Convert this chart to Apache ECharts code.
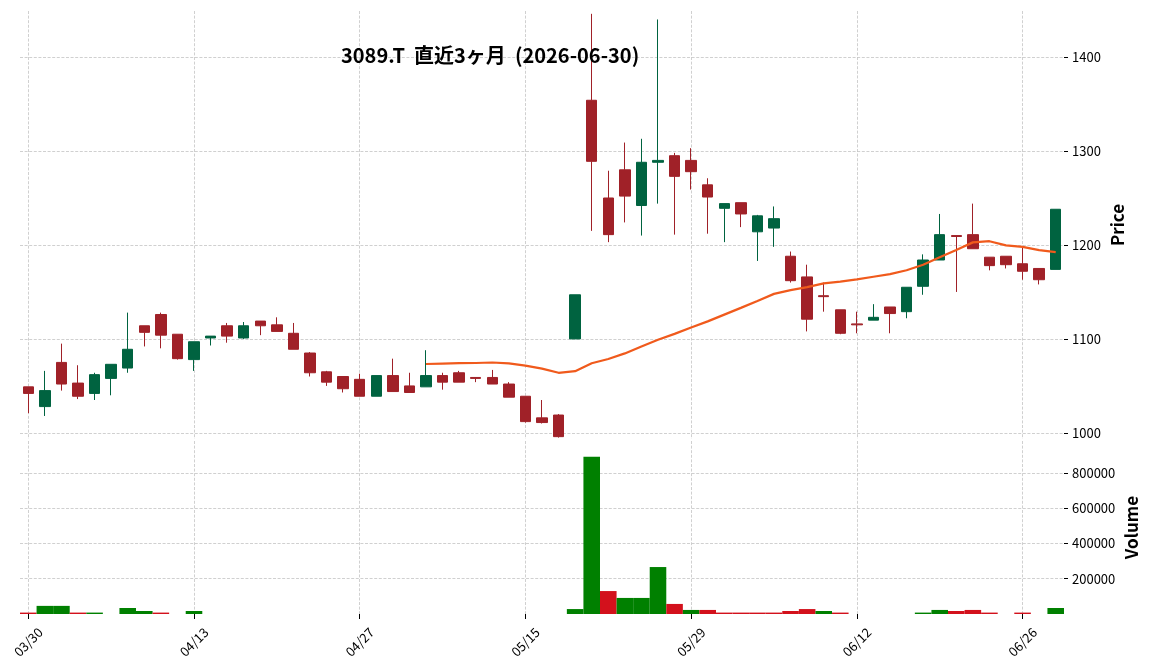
<!DOCTYPE html>
<html><head><meta charset="utf-8">
<script src="https://cdn.jsdelivr.net/npm/echarts@6/dist/echarts.min.js"></script>
<style>html,body{margin:0;padding:0;background:#fff}#c{width:1152px;height:670px}</style>
</head><body><div id="c"></div>
<script>
const dates = ['03/30','03/31','04/01','04/02','04/03','04/06','04/07','04/08','04/09','04/10',
  '04/13','04/14','04/15','04/16','04/17','04/20','04/21','04/22','04/23','04/24',
  '04/27','04/28','04/30','05/01','05/07','05/08','05/11','05/12','05/13','05/14',
  '05/15','05/18','05/19','05/20','05/21','05/22','05/25','05/26','05/27','05/28',
  '05/29','06/01','06/02','06/03','06/04','06/05','06/08','06/09','06/10','06/11',
  '06/12','06/15','06/16','06/17','06/18','06/19','06/22','06/23','06/24','06/25',
  '06/26','06/29','06/30'];
const opens  = [1049,1028,1075,1053,1042,1058,1069,1114,1126,1105,
  1078,1101,1114,1101,1119,1115,1106,1085,1065,1060,
  1057,1039,1061,1050,1049,1061,1064,1059,1059,1052,
  1039,1016,1019,1100,1354,1250,1280,1242,1288,1295,
  1290,1264,1239,1245,1214,1218,1188,1166,1146,1131,
  1116,1120,1134,1129,1156,1184,1210,1211,1187,1188,
  1180,1175,1174];
const closes = [1042,1045,1052,1039,1062,1073,1089,1107,1104,1079,
  1097,1103,1103,1114,1114,1108,1089,1064,1054,1047,
  1039,1061,1044,1043,1061,1054,1054,1058,1052,1038,
  1012,1011,996,1147,1289,1211,1252,1288,1290,1273,
  1278,1251,1244,1233,1231,1228,1162,1121,1145,1106,
  1115,1123,1127,1155,1184,1211,1209,1196,1178,1179,
  1172,1163,1238];
const lows   = [1021,1018,1045,1036,1035,1040,1064,1092,1090,1078,
  1066,1093,1096,1100,1104,1108,1089,1060,1050,1043,
  1039,1039,1044,1043,1049,1046,1054,1054,1052,1038,
  1011,1010,995,1100,1215,1203,1224,1210,1244,1211,
  1259,1212,1203,1219,1183,1198,1160,1108,1129,1105,
  1106,1120,1106,1122,1147,1184,1150,1196,1173,1175,
  1163,1158,1174];
const highs  = [1049,1066,1095,1072,1064,1073,1128,1114,1128,1105,
  1097,1103,1117,1118,1119,1123,1117,1086,1066,1060,
  1063,1061,1079,1064,1088,1064,1066,1059,1067,1054,
  1039,1035,1020,1147,1446,1279,1309,1313,1440,1298,
  1303,1271,1244,1245,1232,1241,1193,1179,1160,1131,
  1129,1137,1134,1155,1190,1233,1210,1244,1187,1188,
  1198,1175,1238];
const volumes = [8000,46000,46000,8000,8000,0,34000,17000,8000,0,
  17000,0,0,0,0,0,0,0,0,0,
  0,0,0,0,0,0,0,0,0,0,
  0,0,0,28000,891000,130000,91000,91000,266000,57000,
  23000,23000,8000,8000,8000,8000,17000,28000,17000,8000,
  0,0,0,0,8000,23000,17000,23000,8000,0,
  8000,0,34000];
const tickDates = ['03/30','04/13','04/27','05/15','05/29','06/12','06/26'];
const priceTicks = [1000,1100,1200,1300,1400];
const volumeTicks = [200000,400000,600000,800000];
const maWindow = 25;
const titleText = '3089.T  直近3ヶ月  (2026-06-30)';

const UP = '#006340', DOWN = '#a02128', VUP = '#008000', VDOWN = '#d3111c';
const GRID_LINE = {color: '#c4c4c4', width: 0.8, type: [3, 1.6]};
const FONT = "'Noto Sans CJK JP', 'Noto Sans', sans-serif";

const candleData = dates.map((d, i) => [opens[i], closes[i], lows[i], highs[i]]);
const ma = closes.map((c, i) => {
  if (i < maWindow - 1) return null;
  let s = 0; for (let k = i - maWindow + 1; k <= i; k++) s += closes[k];
  return +(s / maWindow).toFixed(2);
});
const volData = volumes.map((v, i) => {
  const up = i === 0 ? closes[0] >= opens[0] : closes[i] >= closes[i - 1];
  return {value: v, itemStyle: {color: up ? VUP : VDOWN}};
});

const G0 = {left: 20, width: 1044, top: 11, height: 428};
const G1 = {left: 20, width: 1044, top: 441, height: 173};
const n = dates.length;
const helperX = (gi) => ({
  type: 'value', gridIndex: gi, position: 'top', min: -0.5, max: n - 0.5,
  minInterval: 10, maxInterval: 10,
  axisLine: {show: false, onZero: false}, axisTick: {show: false}, axisLabel: {show: false},
  splitLine: {show: true, showMinLine: false, showMaxLine: false, lineStyle: GRID_LINE}
});
const yAxisCommon = (ticks, name, gap) => ({
  position: 'right',
  axisLine: {show: false, onZero: false},
  axisTick: {show: true, length: 4, customValues: ticks, lineStyle: {color: '#000'}},
  axisLabel: {customValues: ticks, margin: 8, fontSize: 13, color: '#000', fontFamily: FONT,
              formatter: v => String(v)},
  splitLine: {show: true, lineStyle: GRID_LINE},
  name: name, nameLocation: 'middle', nameRotate: 90, nameGap: gap, nameMoveOverlap: false,
  nameTextStyle: {fontSize: 17, fontWeight: 'bold', color: '#000', fontFamily: FONT}
});

const chart = echarts.init(document.getElementById('c'), null, {renderer: 'canvas'});
chart.setOption({
  animation: false,
  backgroundColor: '#ffffff',
  textStyle: {fontFamily: FONT},
  title: {
    text: titleText, left: 341, top: 43, padding: 0,
    textStyle: {fontFamily: FONT, fontSize: 20, fontWeight: 'bold', color: '#000', lineHeight: 24}
  },
  grid: [G0, G1],
  xAxis: [
    {type: 'category', gridIndex: 0, data: dates, boundaryGap: true,
     axisLine: {show: false, onZero: false}, axisTick: {show: false}, axisLabel: {show: false}, splitLine: {show: false}},
    {type: 'category', gridIndex: 1, data: dates, boundaryGap: true,
     axisLine: {show: false, onZero: false},
     axisTick: {show: true, alignWithLabel: true, length: 5, interval: (i, v) => tickDates.includes(v),
                lineStyle: {color: '#000', width: 1}},
     axisLabel: {show: true, interval: (i, v) => tickDates.includes(v), rotate: 45,
                 align: 'center', verticalAlign: 'middle', margin: 28,
                 fontSize: 13, color: '#000', fontFamily: FONT},
     splitLine: {show: false}},
    helperX(0), helperX(1)
  ],
  yAxis: [
    Object.assign({type: 'value', gridIndex: 0, min: 993.5, max: 1449}, yAxisCommon(priceTicks, 'Price', 45)),
    Object.assign({type: 'value', gridIndex: 1, min: 0, max: 980000}, yAxisCommon(volumeTicks, 'Volume', 59))
  ],
  series: [
    {type: 'candlestick', xAxisIndex: 0, yAxisIndex: 0, data: candleData, barWidth: '66%', z: 3,
     itemStyle: {color: UP, color0: DOWN, borderColor: UP, borderColor0: DOWN, borderWidth: 1}},
    {type: 'line', xAxisIndex: 0, yAxisIndex: 0, data: ma, showSymbol: false, symbol: 'none', z: 4,
     connectNulls: false, lineStyle: {color: '#f05a1c', width: 2.2}},
    {type: 'bar', xAxisIndex: 1, yAxisIndex: 1, data: volData, barWidth: '100%', barGap: '0%', z: 3}
  ]
});
</script></body></html>
